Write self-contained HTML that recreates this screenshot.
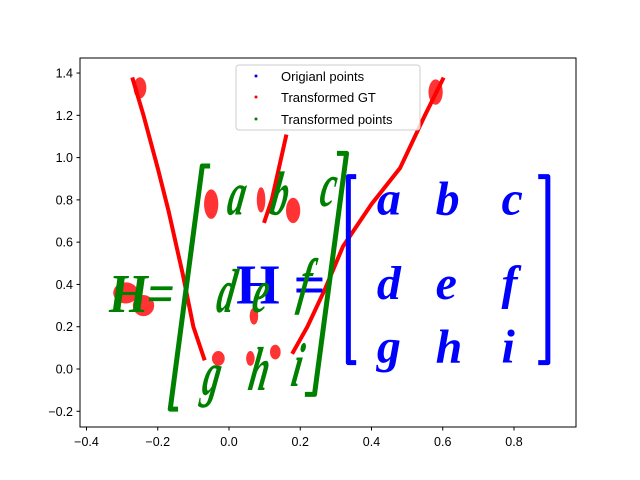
<!DOCTYPE html>
<html><head><meta charset="utf-8"><style>
body{margin:0;background:#fff}
svg{display:block;font-family:"Liberation Sans",sans-serif}
</style></head><body>
<svg id="chart" width="640" height="480" viewBox="0 0 640 480">
<rect width="640" height="480" fill="#fff"/>
<g id="plot"></g>
<rect x="80" y="58" width="496" height="369" fill="none" stroke="#000" stroke-width="1"/>
<g id="axes"></g>
<g>
<rect x="236" y="65" width="184" height="65" rx="3" fill="#fff" fill-opacity="0.8" stroke="#ccc"/>
<circle cx="256" cy="76" r="1.5" fill="blue"/>
<text x="281" y="81" font-size="13">Origianl points</text>
<circle cx="256" cy="97" r="1.5" fill="red"/>
<text x="281" y="102" font-size="13">Transformed GT</text>
<circle cx="256" cy="119" r="1.5" fill="green"/>
<text x="281" y="124" font-size="13">Transformed points</text>
</g>
</svg>
<script>
const xTicks=[-0.4,-0.2,0.0,0.2,0.4,0.6,0.8];
const xTickLabels=["\u22120.4","\u22120.2","0.0","0.2","0.4","0.6","0.8"];
const yTicks=[-0.2,0,0.2,0.4,0.6,0.8,1.0,1.2,1.4];
const yTickLabels=["\u22120.2","0.0","0.2","0.4","0.6","0.8","1.0","1.2","1.4"];
const redLeftX=[-0.27,-0.24,-0.2,-0.17,-0.13,-0.1,-0.07];
const redLeftY=[1.37,1.2,0.95,0.75,0.45,0.2,0.05];
const redRightX=[0.6,0.55,0.48,0.4,0.32,0.27,0.22,0.18];
const redRightY=[1.37,1.2,0.95,0.78,0.58,0.38,0.2,0.08];
const redMidX=[0.16,0.14,0.12,0.1];
const redMidY=[1.1,0.95,0.8,0.7];
const blobX=[-0.29,-0.24,-0.05,-0.03,0.06,0.13,0.07,0.18,0.09,-0.25,0.58];
const blobY=[0.36,0.3,0.78,0.05,0.05,0.08,0.25,0.75,0.8,1.33,1.31];
const blobRX=[0.035,0.03,0.02,0.018,0.012,0.015,0.012,0.02,0.012,0.018,0.02];
const blobRY=[0.05,0.05,0.07,0.035,0.035,0.035,0.04,0.06,0.06,0.05,0.06];
const gLeftX=[-0.06,-0.075,-0.165,-0.15];
const gLeftY=[0.96,0.96,-0.19,-0.19];
const gRightX=[0.31,0.33,0.24,0.22];
const gRightY=[1.02,1.02,-0.12,-0.12];
const bLeftX=[0.35,0.335,0.335,0.35];
const bLeftY=[0.91,0.91,0.03,0.03];
const bRightX=[0.875,0.895,0.895,0.875];
const bRightY=[0.91,0.91,0.03,0.03];
const blueLetters=["a","b","c","d","e","f","g","h","i"];
const blueLX=[0.415,0.58,0.765,0.415,0.58,0.765,0.415,0.58,0.765];
const blueLY=[0.73,0.73,0.73,0.33,0.33,0.33,0.03,0.03,0.03];
const greenLetters=["a","b","c","d","e","f","g","h","i"];
const greenLX=[-0.01,0.11,0.25,-0.04,0.06,0.19,-0.08,0.05,0.17];
const greenLY=[0.73,0.73,0.77,0.27,0.27,0.32,-0.12,-0.1,-0.08];

const X=v=>229+v*356.25, Y=v=>369-v*211.4;
const NS="http://www.w3.org/2000/svg";
const plot=document.getElementById('plot'), axes=document.getElementById('axes');
function mk(t,a,p){const e=document.createElementNS(NS,t);for(const k in a)e.setAttribute(k,a[k]);(p||plot).appendChild(e);return e;}
function line(xs,ys,color,w,name){
  const e=mk('polyline',{points:xs.map((x,i)=>X(x)+','+Y(ys[i])).join(' '),fill:'none',stroke:color,'stroke-width':w,'stroke-linejoin':'round','stroke-linecap':'square'});
  
  
}
blobX.forEach((x,i)=>{
  const e=mk('ellipse',{cx:X(x),cy:Y(blobY[i]),rx:blobRX[i]*356,ry:blobRY[i]*211,fill:'red',opacity:0.8});
  
  
});
line(redLeftX,redLeftY,'red',4,'red-left-streak');
line(redRightX,redRightY,'red',4,'red-right-streak');
line(redMidX,redMidY,'red',4,'red-mid-streak');
let t=mk('text',{x:X(0.02),y:Y(0.31),'font-size':56,'font-family':'Liberation Serif, serif','font-weight':'bold',fill:'blue'});
t.textContent='H =';


line(bLeftX,bLeftY,'blue',5,'blue-left-bracket');
line(bRightX,bRightY,'blue',5,'blue-right-bracket');
blueLetters.forEach((c,i)=>{
  const e=mk('text',{x:X(blueLX[i]),y:Y(blueLY[i]),'font-size':48,'font-family':'Liberation Serif, serif','font-weight':'bold','font-style':'italic',fill:'blue'});
  e.textContent=c;
  
  
});
line(gLeftX,gLeftY,'green',5,'green-left-bracket');
line(gRightX,gRightY,'green',5,'green-right-bracket');
t=mk('text',{x:0,y:0,'font-size':50,'font-family':'Liberation Serif, serif','font-weight':'bold',fill:'green',transform:`translate(${X(-0.34)},${Y(0.27)}) skewX(-8) scale(0.95,1.1)`});
t.textContent='H=';


greenLetters.forEach((c,i)=>{
  const e=mk('text',{x:0,y:0,'font-size':46,'font-family':'Liberation Serif, serif','font-weight':'bold','font-style':'italic',fill:'green',transform:`translate(${X(greenLX[i])},${Y(greenLY[i])}) skewX(-10) scale(0.75,1.35)`});
  e.textContent=c;
  
  
});
xTicks.forEach((v,i)=>{
  const x=X(v);
  const l=mk('line',{x1:x,x2:x,y1:427,y2:430.5,stroke:'#000'},axes);
  
  
  const e=mk('text',{x:x,y:446,'font-size':12.5,'text-anchor':'middle'},axes);
  e.textContent=xTickLabels[i];
  
  
});
yTicks.forEach((v,i)=>{
  const y=Y(v);
  const l=mk('line',{x1:76.5,x2:80,y1:y,y2:y,stroke:'#000'},axes);
  
  
  const e=mk('text',{x:73,y:y+4.5,'font-size':12.5,'text-anchor':'end'},axes);
  e.textContent=yTickLabels[i];
  
  
});
</script>
</body></html>
